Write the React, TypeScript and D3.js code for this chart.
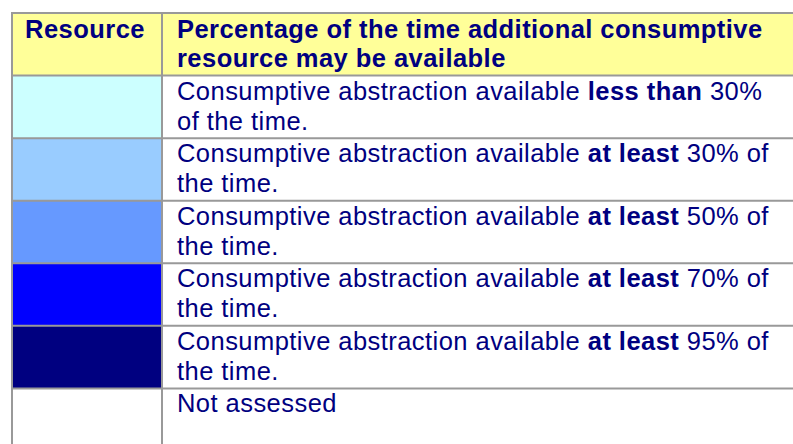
import React, { useEffect, useRef } from 'react';
import * as d3 from 'd3';

const WIDTH = 793;
const HEIGHT = 444;

// table rows (header + legend rows)
const HEADER_RESOURCE = 'Resource';
const HEADER_LINES = ['Percentage of the time additional consumptive', 'resource may be available'];

const rowColors = ['#CCFFFF', '#99CCFF', '#6699FF', '#0000FF', '#000080', '#FFFFFF'];
const rowPrefix = [
    'Consumptive abstraction available ',
    'Consumptive abstraction available ',
    'Consumptive abstraction available ',
    'Consumptive abstraction available ',
    'Consumptive abstraction available ',
    'Not assessed',
];
const rowBold = ['less than', 'at least', 'at least', 'at least', 'at least', ''];
const rowSuffix = [' 30%', ' 30% of', ' 50% of', ' 70% of', ' 95% of', ''];
const rowSecondLine = ['of the time.', 'the time.', 'the time.', 'the time.', 'the time.', ''];

const TEXT_COLOR = '#000080';
const BORDER = '#999999';
const FONT = '"Liberation Sans", Arial, sans-serif';

const App: React.FC = () => {
    const svgRef = useRef<SVGSVGElement>(null);

    useEffect(() => {
        if (!svgRef.current) return;
        const svg = d3.select(svgRef.current);
        svg.selectAll('*').remove();

        const rowKeys = ['header', ...rowColors.map((_, i) => `r${i}`)];
        const y = d3.scaleBand<string>().domain(rowKeys).range([13, 451]);
        const x = d3.scaleOrdinal<string, number>().domain(['res', 'desc', 'end']).range([12, 162, 820]);

        svg.append('rect').attr('width', WIDTH).attr('height', HEIGHT).attr('fill', 'white');

        // header fill
        svg.append('rect')
            .attr('x', x('res')).attr('y', y('header')!)
            .attr('width', x('end') - x('res')).attr('height', y.bandwidth())
            .attr('fill', '#FFFF99');

        // swatches
        svg.selectAll('rect.swatch').data(rowColors).enter().append('rect')
            .attr('class', 'swatch')
            .attr('x', x('res')).attr('y', (_, i) => y(`r${i}`)!)
            .attr('width', x('desc') - x('res')).attr('height', y.bandwidth())
            .attr('fill', d => d);

        // horizontal borders
        const hLines = [...rowKeys.map(k => y(k)!), y(rowKeys[rowKeys.length - 1])! + y.bandwidth()];
        svg.selectAll('line.h').data(hLines).enter().append('line')
            .attr('x1', x('res') - 1).attr('x2', x('end'))
            .attr('y1', d => d).attr('y2', d => d)
            .attr('stroke', BORDER).attr('stroke-width', 2);

        // vertical borders
        svg.selectAll('line.v').data([x('res'), x('desc')]).enter().append('line')
            .attr('x1', d => d).attr('x2', d => d)
            .attr('y1', y('header')! - 1).attr('y2', 460)
            .attr('stroke', BORDER).attr('stroke-width', 2);

        const text = (sel: d3.Selection<SVGTextElement, unknown, null, undefined>) =>
            sel.style('font-family', FONT).style('font-size', '25.5px')
                .style('letter-spacing', '0.45px').attr('fill', TEXT_COLOR);

        // header text
        svg.append('text').call(text)
            .attr('x', (x('res') + x('desc')) / 2 - 2).attr('y', y('header')! + 25)
            .attr('text-anchor', 'middle').style('font-weight', 'bold')
            .text(HEADER_RESOURCE);

        HEADER_LINES.forEach((line, i) => {
            svg.append('text').call(text)
                .attr('x', x('desc') + 15).attr('y', y('header')! + 25 + i * 29)
                .style('font-weight', 'bold')
                .text(line);
        });

        // row text
        rowColors.forEach((_, i) => {
            const top = y(`r${i}`)!;
            const t1 = svg.append('text').call(text)
                .attr('x', x('desc') + 15).attr('y', top + 24);
            t1.append('tspan').text(rowPrefix[i]);
            if (rowBold[i]) t1.append('tspan').style('font-weight', 'bold').text(rowBold[i]);
            if (rowSuffix[i]) t1.append('tspan').text(rowSuffix[i]);
            if (rowSecondLine[i]) {
                svg.append('text').call(text)
                    .attr('x', x('desc') + 15).attr('y', top + 54)
                    .text(rowSecondLine[i]);
            }
        });
    }, []);

    return (
        <svg
            ref={svgRef}
            width={WIDTH}
            height={HEIGHT}
            style={{ position: 'absolute', left: 0, top: 0, display: 'block' }}
        />
    );
};

export default App;
